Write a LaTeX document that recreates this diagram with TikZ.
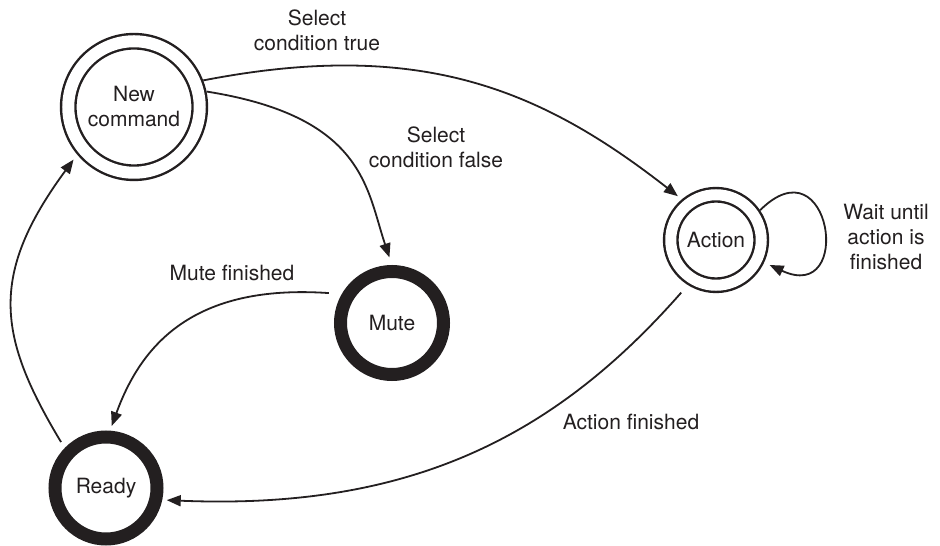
\documentclass[tikz,border=0pt]{standalone}
\usepackage{fontspec}
\setmainfont{TeX Gyre Heros}
\usetikzlibrary{arrows.meta}
\definecolor{ink}{RGB}{35,31,32}
\begin{document}
\begin{tikzpicture}[x=1pt,y=1pt,
  txt/.style={font=\fontsize{21}{25}\selectfont, text=ink, align=center, inner sep=0pt},
  dstate/.style={txt, circle, draw=ink, line width=2.4pt, double=white},
  tstate/.style={txt, circle, draw=ink, line width=13pt, outer sep=6.5pt},
  conn/.style={draw=ink, line width=1.8pt, -{Triangle[length=14pt,width=11pt]}},
]
\useasboundingbox[fill=white] (0,0) rectangle (940,546);

% states
\node[dstate, double distance=12pt, minimum size=131.5pt, outer sep=8.5pt] (nc) at (134,439) {New\\command};
\node[dstate, double distance=11pt, minimum size=90.5pt, outer sep=7.9pt] (act) at (716,306) {Action};
\node[tstate, minimum size=103pt] (mute) at (392,223) {Mute};
\node[tstate, minimum size=102pt] (ready) at (106,58) {Ready};

% transitions
\draw[conn, shorten >=5pt] (nc.21) .. controls +(11:220) and +(142:180) .. (act.130);
\draw[conn, shorten >=8pt] (nc.12) .. controls +(-9:160) and +(108.6:80) .. (mute.90);
\draw[conn, shorten <=13pt, shorten >=5pt] (mute.150) .. controls +(176:150) and +(70:90) .. (ready.86);
\draw[conn, shorten <=10pt, shorten >=4.5pt] (act.238) .. controls +(228.7:200) and +(-2.4:250) .. (ready.-12);
\draw[conn, shorten <=7pt, shorten >=6pt] (ready.136) .. controls +(121:130) and +(233.7:150) .. (nc.220);
\draw[conn, shorten >=6pt] (act.34) .. controls +(45:100) and +(-25:100) .. (act.-25);

% transition labels
\node[txt] (lbltrue) at (317,515.5) {Select\\condition true};
\node[txt] (lblfalse) at (436,398.5) {Select\\condition false};
\node[txt] (lblmute) at (232,273) {Mute finished};
\node[txt] (lblact) at (631,124) {Action finished};
\node[txt] (lblwait) at (886,309) {Wait until\\action is\\finished};
\end{tikzpicture}
\end{document}
